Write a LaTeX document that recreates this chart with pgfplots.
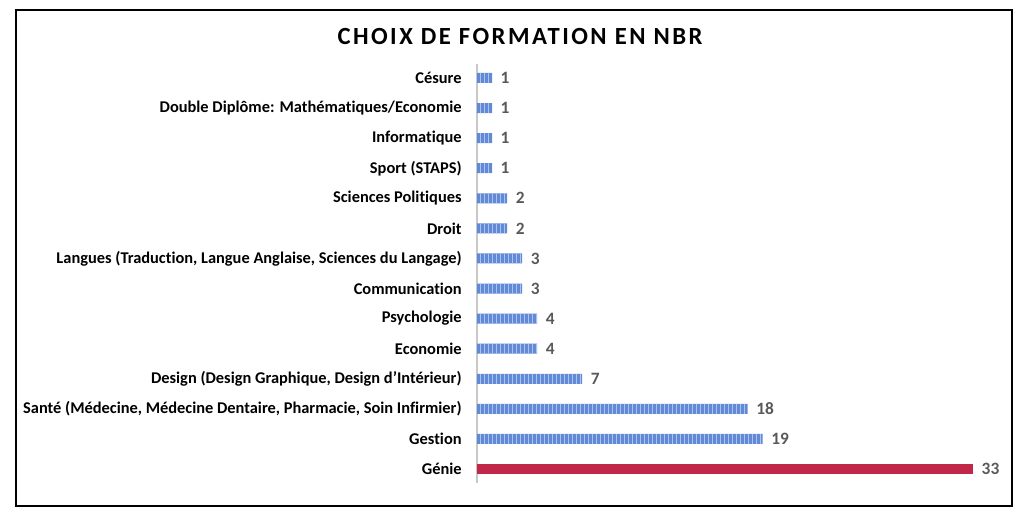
\documentclass[border=0pt]{standalone}
\usepackage{pgfplots}
\pgfplotsset{compat=1.18}
\usepackage{fontspec}
\setmainfont{Carlito}[RawFeature=-liga]
\usetikzlibrary{patterns}
\definecolor{barblue}{RGB}{98,137,214}
\definecolor{barstripe}{RGB}{170,195,240}
\definecolor{barred}{RGB}{192,39,72}
\definecolor{valgray}{RGB}{89,89,89}
\definecolor{axgray}{RGB}{200,200,200}
\begin{document}
\begin{tikzpicture}
\useasboundingbox (0,0) rectangle (768pt,390pt);
\draw[black, line width=1.1pt] (12pt,10.5pt) rectangle (759pt,382.5pt);
\node[font=\bfseries\fontsize{18.5}{22}\selectfont\addfontfeatures{LetterSpace=10}] at (390pt,362.25pt) {CHOIX DE FORMATION EN NBR};
\begin{axis}[
  at={(357.75pt,27.75pt)}, anchor=south west,
  scale only axis, width=372pt, height=314.25pt,
  xmin=0, xmax=33, ymin=-0.465, ymax=13.465,
  xbar, bar width=7.5pt,
  axis x line=none,
  axis y line*=left,
  y axis line style={axgray, line width=0.8pt, -},
  ytick={0,...,13},
  yticklabels={Génie, Gestion, {Santé (Médecine, Médecine Dentaire, Pharmacie, Soin Infirmier)}, {Design (Design Graphique, Design d'Intérieur)}, Economie, Psychologie, Communication, {Langues (Traduction, Langue Anglaise, Sciences du Langage)}, Droit, Sciences Politiques, Sport (STAPS), Informatique, {Double Diplôme: Mathématiques/Economie}, Césure},
  major tick length=0pt,
  yticklabel style={font=\bfseries\fontsize{12.3}{14}\selectfont, xshift=-8pt},
  /pgf/number format/assume math mode=true,
  nodes near coords,
  every node near coord/.append style={font=\bfseries\fontsize{13}{15}\selectfont, text=valgray, xshift=3pt},
  clip=false,
]
\addplot[bar shift=0pt, draw=none, fill=barblue, postaction={pattern=vertical lines, pattern color=barstripe}] coordinates {
  (19,1) (18,2) (7,3) (4,4) (4,5) (3,6) (3,7) (2,8) (2,9) (1,10) (1,11) (1,12) (1,13)
};
\addplot[bar shift=0pt, draw=none, fill=barred] coordinates {(33,0)};
\end{axis}
\end{tikzpicture}
\end{document}
